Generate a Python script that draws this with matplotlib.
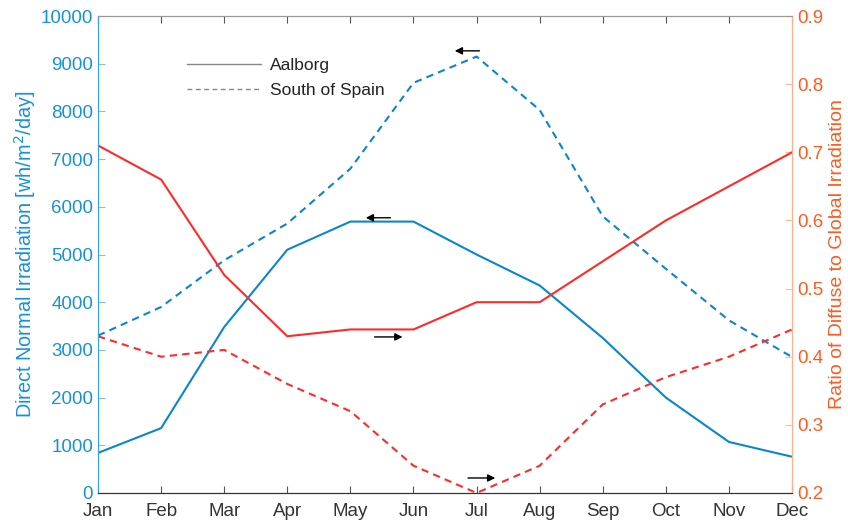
import matplotlib
matplotlib.use("Agg")
import matplotlib.pyplot as plt
from matplotlib.lines import Line2D

plt.rcParams["font.family"] = ["Liberation Sans", "DejaVu Sans"]

months = ["Jan", "Feb", "Mar", "Apr", "May", "Jun",
          "Jul", "Aug", "Sep", "Oct", "Nov", "Dec"]

# Direct normal irradiation [wh/m2/day]
dni_aalborg = [840, 1360, 3480, 5100, 5690, 5690, 5000, 4350, 3250, 2000, 1070, 760]
dni_spain = [3300, 3900, 4880, 5650, 6800, 8600, 9150, 8030, 5800, 4700, 3620, 2850]

# Ratio of diffuse to global irradiation
ratio_aalborg = [0.71, 0.66, 0.52, 0.43, 0.44, 0.44, 0.48, 0.48, 0.54, 0.60, 0.65, 0.70]
ratio_spain = [0.43, 0.40, 0.41, 0.36, 0.32, 0.24, 0.20, 0.24, 0.33, 0.37, 0.40, 0.44]

BLUE = "#0a86cc"
BLUE_TXT = "#1792d6"
RED = "#ff2a2a"
ORANGE = "#ff5a1f"

fig = plt.figure(figsize=(8.48, 5.22), dpi=100)
ax = fig.add_axes([0.1156, 0.0556, 0.8184, 0.9137])
ax2 = ax.twinx()

x = list(range(len(months)))
ax.plot(x, dni_aalborg, color=BLUE, lw=1.5, ls="-")
ax.plot(x, dni_spain, color=BLUE, lw=1.5, ls=(0, (3.5, 2.5)))
ax2.plot(x, ratio_aalborg, color=RED, lw=1.5, ls="-")
ax2.plot(x, ratio_spain, color=RED, lw=1.5, ls=(0, (3.5, 2.5)))

ax.set_xlim(0, 11)
ax.set_ylim(0, 10000)
ax2.set_ylim(0.2, 0.9)
ax.set_xticks(x)
ax.set_xticklabels(months, color="#333333", fontsize=13.5)
ax.set_yticks(range(0, 10001, 1000))
ax2.set_yticks([0.2, 0.3, 0.4, 0.5, 0.6, 0.7, 0.8, 0.9])
ax2.set_yticklabels(["0.2", "0.3", "0.4", "0.5", "0.6", "0.7", "0.8", "0.9"])

ax.tick_params(axis="x", direction="in", length=5, top=True, color="#555555", pad=7)
ax.tick_params(axis="y", direction="in", length=5, colors=BLUE_TXT, labelsize=13.5)
ax2.tick_params(axis="y", direction="in", length=5, colors=ORANGE, labelsize=13.5)
ax2.tick_params(axis="y", color="#ffb89a")
ax.tick_params(axis="y", color="#7fc3ea")

for a in (ax, ax2):
    a.spines["top"].set_color("#999999")
    a.spines["bottom"].set_color("#333333")
    a.spines["left"].set_color("#33a6e0")
    a.spines["right"].set_color("#ffb08c")

ax.set_ylabel("Direct Normal Irradiation [wh/m$^2$/day]", color=BLUE_TXT,
              fontsize=14.3, labelpad=2)
ax2.set_ylabel("Ratio of Diffuse to Global Irradiation", color=ORANGE,
               fontsize=14, labelpad=4)

# arrows pointing each curve to its axis
arrow = dict(arrowstyle="-|>", color="black", lw=1.0, mutation_scale=11)
ax.annotate("", xy=(5.61, 9270), xytext=(6.09, 9270), arrowprops=arrow)
ax.annotate("", xy=(4.20, 5770), xytext=(4.68, 5770), arrowprops=arrow)
ax2.annotate("", xy=(4.87, 0.429), xytext=(4.34, 0.429), arrowprops=arrow)
ax2.annotate("", xy=(6.34, 0.222), xytext=(5.82, 0.222), arrowprops=arrow)

handles = [Line2D([], [], color="#888888", lw=1.0, ls="-"),
           Line2D([], [], color="#888888", lw=1.0, ls=(0, (3.5, 2.5)))]
leg = ax.legend(handles, ["Aalborg", "South of Spain"], loc="upper left",
                bbox_to_anchor=(0.105, 0.945), frameon=False, fontsize=12.5,
                handlelength=4.3, handletextpad=0.5, labelspacing=0.55)
for t in leg.get_texts():
    t.set_color("#222222")

fig.savefig("out.png", dpi=100)
